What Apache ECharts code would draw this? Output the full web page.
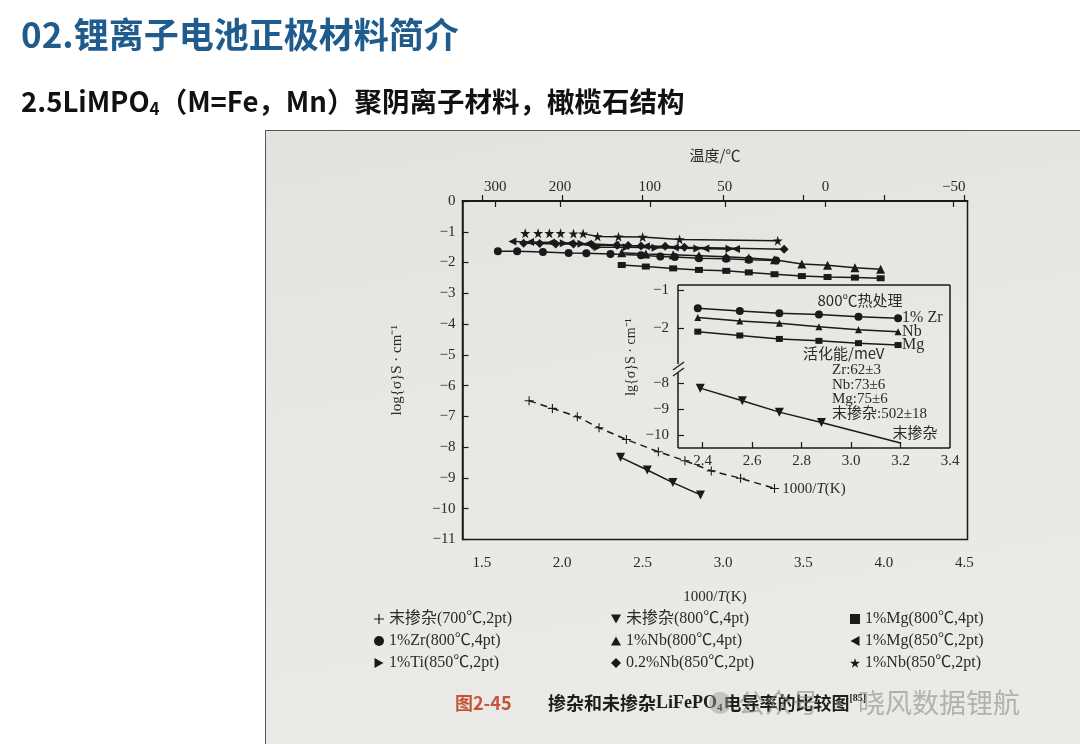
<!DOCTYPE html>
<html><head><meta charset="utf-8">
<script src="https://cdn.jsdelivr.net/npm/echarts@6/dist/echarts.min.js"></script>
<style>
html,body{margin:0;padding:0;background:#fff;}
#photo{position:absolute;left:265px;top:130px;width:815px;height:614px;background:linear-gradient(170deg,#e3e2df 0%,#e9e8e5 45%,#ebeae7 100%);border-left:1.5px solid #555;border-top:1.5px solid #555;box-sizing:border-box;}
#c{position:absolute;left:0;top:0;width:1080px;height:744px;}
</style>
</head><body><div id="photo"></div><div id="c"></div>
<script>
// ---------- data ----------
const xTicks = [1.5, 2.0, 2.5, 3.0, 3.5, 4.0, 4.5];
const tempLabels = [300, 200, 100, 50, 0, -50];
const tempTickPos = [1.583, 1.986, 2.545, 3.011, 3.637, 4.434];

const legendCol1 = ['末掺杂(700℃,2pt)', '1%Zr(800℃,4pt)', '1%Ti(850℃,2pt)'];
const legendCol2 = ['未掺杂(800℃,4pt)', '1%Nb(800℃,4pt)', '0.2%Nb(850℃,2pt)'];
const legendCol3 = ['1%Mg(800℃,4pt)', '1%Mg(850℃,2pt)', '1%Nb(850℃,2pt)'];

const undoped700X = [1.794, 1.939, 2.094, 2.229, 2.399, 2.598, 2.763, 2.927, 3.109, 3.320];
const undoped700Y = [-6.49, -6.74, -7.01, -7.37, -7.75, -8.15, -8.44, -8.77, -9.01, -9.34];
const undoped800X = [2.363, 2.529, 2.688, 2.860];
const undoped800Y = [-8.33, -8.74, -9.15, -9.55];
const mg800X = [2.37, 2.52, 2.69, 2.85, 3.02, 3.16, 3.32, 3.49, 3.65, 3.82, 3.98];
const mg800Y = [-2.08, -2.13, -2.19, -2.24, -2.27, -2.32, -2.38, -2.44, -2.47, -2.49, -2.51];
const nb800X = [2.37, 2.52, 2.69, 2.85, 3.02, 3.16, 3.32, 3.49, 3.65, 3.82, 3.98];
const nb800Y = [-1.68, -1.72, -1.75, -1.78, -1.81, -1.85, -1.91, -2.05, -2.09, -2.17, -2.22];
const zr800X = [1.60, 1.72, 1.88, 2.04, 2.15, 2.30, 2.49, 2.61, 2.70, 2.85, 3.02, 3.16, 3.33];
const zr800Y = [-1.63, -1.63, -1.66, -1.69, -1.70, -1.72, -1.76, -1.80, -1.82, -1.86, -1.88, -1.91, -1.93];
const mg850X = [1.69, 1.80, 1.93, 2.05, 2.16, 2.33, 2.52, 2.70, 2.89, 3.08];
const mg850Y = [-1.32, -1.33, -1.35, -1.37, -1.39, -1.43, -1.47, -1.51, -1.54, -1.56];
const ti850X = [2.01, 2.12, 2.22, 2.40, 2.58, 2.84, 3.04];
const ti850Y = [-1.37, -1.39, -1.50, -1.50, -1.52, -1.54, -1.55];
const nb02X = [1.76, 1.86, 1.96, 2.07, 2.19, 2.34, 2.41, 2.49, 2.64, 2.76, 3.38];
const nb02Y = [-1.37, -1.38, -1.40, -1.40, -1.44, -1.44, -1.45, -1.46, -1.47, -1.50, -1.57];
const nb850X = [1.77, 1.85, 1.92, 1.99, 2.07, 2.13, 2.22, 2.35, 2.50, 2.73, 3.34];
const nb850Y = [-1.05, -1.05, -1.05, -1.05, -1.06, -1.06, -1.15, -1.16, -1.17, -1.25, -1.29];

// inset
const insetXTicks = [2.4, 2.6, 2.8, 3.0, 3.2, 3.4];
const insetTopTicks = [-1, -2];
const insetBottomTicks = [-8, -9, -10];
const insetX = [2.38, 2.55, 2.71, 2.87, 3.03, 3.19];
const insetZrY = [-1.48, -1.55, -1.61, -1.64, -1.70, -1.74];
const insetNbY = [-1.72, -1.81, -1.87, -1.96, -2.04, -2.09];
const insetMgY = [-2.09, -2.19, -2.28, -2.33, -2.39, -2.44];
const insetUndX = [2.39, 2.56, 2.71, 2.88, 3.20];
const insetUndY = [-8.19, -8.68, -9.12, -9.52, -10.32];
const insetEndNames = ['1% Zr', 'Nb', 'Mg', '末掺杂'];
const activation = ['活化能/meV', 'Zr:62±3', 'Nb:73±6', 'Mg:75±6', '末掺杂:502±18'];

// ---------- render ----------
const INK = '#1a1a1a';
const TXT = '#2a2a2a';
const SERIF = '"Liberation Serif","Noto Sans CJK SC",serif';
const CJK = '"Noto Sans CJK SC","Noto Sans",sans-serif';
const SYM = {
  plus: 'path://M4.4,0H5.6V4.4H10V5.6H5.6V10H4.4V5.6H0V4.4H4.4Z',
  down: 'path://M0,0H10L5,9Z',
  up: 'path://M5,0L10,9H0Z',
  left: 'path://M0,5L9,0V10Z',
  right: 'path://M9,5L0,0V10Z',
  star: 'path://M50,0L61.8,36.2H100L69.1,58.8L80.9,95.1L50,72.7L19.1,95.1L30.9,58.8L0,36.2H38.2Z'
};
const zip = (xs, ys) => xs.map((x, i) => [x, ys[i]]);
const minus = v => String(v).replace('-', '−');

function line(name, xs, ys, symbol, size, opts) {
  return Object.assign({
    name, type: 'line', xAxisIndex: 0, yAxisIndex: 0,
    data: zip(xs, ys), symbol, symbolSize: size, showSymbol: true,
    itemStyle: { color: INK }, lineStyle: { color: INK, width: 1.5 },
    animation: false, z: 3
  }, opts || {});
}

const G = { l: 462.5, t: 201, w: 505, h: 338.5 };
const IN = { l: 678, t: 285, w: 272, h1: 83, h2: 80 };

const series = [
  line(legendCol1[0], undoped700X, undoped700Y, SYM.plus, 9, { lineStyle: { color: INK, width: 1.5, type: [7, 5] } }),
  line(legendCol2[0], undoped800X, undoped800Y, SYM.down, 9),
  line(legendCol3[0], mg800X, mg800Y, 'rect', [8, 6]),
  line(legendCol1[1], zr800X, zr800Y, 'circle', 8),
  line(legendCol2[1], nb800X, nb800Y, SYM.up, 9),
  line(legendCol3[1], mg850X, mg850Y, SYM.left, 8),
  line(legendCol1[2], ti850X, ti850Y, SYM.right, 8),
  line(legendCol2[2], nb02X, nb02Y, 'diamond', 9),
  line(legendCol3[2], nb850X, nb850Y, SYM.star, 10, { lineStyle: { opacity: 0 } }),
  line('_nb850line', nb850X.slice(5), nb850Y.slice(5), 'none', 0, { showSymbol: false }),
  // inset
  line('inZr', insetX, insetZrY, 'circle', 8, { xAxisIndex: 2, yAxisIndex: 1,
    endLabel: { show: true, formatter: insetEndNames[0], distance: 4, fontFamily: SERIF, fontSize: 16, color: TXT } }),
  line('inNb', insetX, insetNbY, SYM.up, 7, { xAxisIndex: 2, yAxisIndex: 1,
    endLabel: { show: true, formatter: insetEndNames[1], distance: 4, fontFamily: SERIF, fontSize: 16, color: TXT } }),
  line('inMg', insetX, insetMgY, 'rect', [7, 6], { xAxisIndex: 2, yAxisIndex: 1,
    endLabel: { show: true, formatter: insetEndNames[2], distance: 4, fontFamily: SERIF, fontSize: 16, color: TXT } }),
  line('inUnd', insetUndX, insetUndY, SYM.down, 9, { xAxisIndex: 3, yAxisIndex: 2,
    data: zip(insetUndX, insetUndY).map((p, i) => i === insetUndX.length - 1 ? { value: p, symbol: 'none' } : p),
    endLabel: { show: true, formatter: insetEndNames[3], distance: 4, offset: [-12, -11], fontFamily: CJK, fontSize: 15, color: TXT } })
];

const tickLabel = { fontFamily: SERIF, fontSize: 15, color: TXT };
const axisLine = { show: true, lineStyle: { color: INK, width: 1.5 } };

const legendBase = (left, data, icons) => ({
  orient: 'vertical', left, top: 606, itemWidth: 10, itemHeight: 10, itemGap: 6,
  selectedMode: false,
  textStyle: { fontFamily: SERIF, fontSize: 16, color: TXT },
  data: data.map((n, i) => ({ name: n, icon: icons[i] }))
});

const option = {
  backgroundColor: 'transparent',
  animation: false,
  grid: [
    { left: G.l, top: G.t, width: G.w, height: G.h, show: true, borderColor: INK, borderWidth: 1.5, backgroundColor: 'transparent' },
    { left: IN.l, top: IN.t, width: IN.w, height: IN.h1 },
    { left: IN.l, top: IN.t + IN.h1, width: IN.w, height: IN.h2 }
  ],
  xAxis: [
    { gridIndex: 0, type: 'value', min: 1.38, max: 4.52, position: 'bottom',
      axisLine, splitLine: { show: false },
      axisTick: { inside: true, length: 6, customValues: xTicks, lineStyle: { color: INK, width: 1.2 } },
      axisLabel: Object.assign({ customValues: xTicks, formatter: v => v.toFixed(1), margin: 16 }, tickLabel),
      name: '1000/{i|T}(K)', nameLocation: 'middle', nameGap: 50,
      nameTextStyle: { fontFamily: SERIF, fontSize: 15, color: TXT, rich: { i: { fontFamily: SERIF, fontSize: 15, fontStyle: 'italic', color: TXT } } } },
    { gridIndex: 0, type: 'value', min: 1.38, max: 4.52, position: 'top',
      axisLine, splitLine: { show: false },
      axisTick: { inside: true, length: 6, customValues: tempTickPos, lineStyle: { color: INK, width: 1.2 } },
      axisLabel: Object.assign({ customValues: tempTickPos, margin: 6,
        formatter: v => { const i = tempTickPos.findIndex(p => Math.abs(p - v) < 1e-6); return i < 0 ? '' : minus(tempLabels[i]); } }, tickLabel),
      name: '温度/℃', nameLocation: 'middle', nameGap: 38,
      nameTextStyle: { fontFamily: CJK, fontSize: 15, color: TXT } },
    { gridIndex: 1, type: 'value', min: 2.3, max: 3.4, show: false },
    { gridIndex: 2, type: 'value', min: 2.3, max: 3.4, position: 'bottom',
      axisLine: { show: false }, splitLine: { show: false },
      axisTick: { inside: true, length: 6, customValues: insetXTicks.slice(0, 5), lineStyle: { color: INK, width: 1.2 } },
      axisLabel: Object.assign({ customValues: insetXTicks, formatter: v => v.toFixed(1), margin: 6 }, tickLabel),
      name: '1000/{i|T}(K)', nameLocation: 'middle', nameGap: 34,
      nameTextStyle: { fontFamily: SERIF, fontSize: 15, color: TXT, rich: { i: { fontFamily: SERIF, fontSize: 15, fontStyle: 'italic', color: TXT } } } }
  ],
  yAxis: [
    { gridIndex: 0, type: 'value', min: -11, max: 0, interval: 1,
      axisLine, splitLine: { show: false },
      axisTick: { inside: true, length: 6, lineStyle: { color: INK, width: 1.2 } },
      axisLabel: Object.assign({ formatter: minus, margin: 7 }, tickLabel),
      name: 'log{σ}S · cm⁻¹', nameLocation: 'middle', nameGap: 58,
      nameTextStyle: { fontFamily: SERIF, fontSize: 15, color: TXT } },
    { gridIndex: 1, type: 'value', min: -3.04, max: -0.87,
      axisLine: { show: false }, splitLine: { show: false },
      axisTick: { inside: true, length: 6, customValues: insetTopTicks, lineStyle: { color: INK, width: 1.2 } },
      axisLabel: Object.assign({ customValues: insetTopTicks, formatter: minus, margin: 9 }, tickLabel) },
    { gridIndex: 2, type: 'value', min: -10.51, max: -7.41,
      axisLine: { show: false }, splitLine: { show: false },
      axisTick: { inside: true, length: 6, customValues: insetBottomTicks, lineStyle: { color: INK, width: 1.2 } },
      axisLabel: Object.assign({ customValues: insetBottomTicks, formatter: minus, margin: 9 }, tickLabel) }
  ],
  legend: [
    legendBase(369, legendCol1, [SYM.plus, 'circle', SYM.right]),
    legendBase(606, legendCol2, [SYM.down, SYM.up, 'diamond']),
    legendBase(845, legendCol3, ['rect', SYM.left, SYM.star])
  ],
  series,
  graphic: (() => {
    const L = IN.l, T = IN.t, R = IN.l + IN.w, B = IN.t + IN.h1 + IN.h2, BR = IN.t + IN.h1;
    const seg = (x1, y1, x2, y2, w) => ({ type: 'line', z: 100, shape: { x1, y1, x2, y2 }, style: { stroke: INK, lineWidth: w || 1.5 } });
    const txt = (text, x, y, size, font, align, extra) => Object.assign({ type: 'text', z: 100, x, y,
      style: { text, fontSize: size, fontFamily: font, fill: TXT, textAlign: align || 'left', textVerticalAlign: 'middle' } }, extra || {});
    return [
      { type: 'text', z: 100, x: 21, y: 35, style: { text: '02.锂离子电池正极材料简介', fontSize: 35, fontWeight: 'bold', fontFamily: CJK, fill: '#1f5b8c', textVerticalAlign: 'middle' } },
      { type: 'text', z: 100, x: 21, y: 102, style: { text: '{t|2.5LiMPO}{s|4}{t|（M=Fe，Mn）聚阴离子材料，橄榄石结构}', textVerticalAlign: 'middle',
        rich: { t: { fontSize: 27.5, fontWeight: 'bold', fontFamily: CJK, fill: '#111', lineHeight: 34 },
                s: { fontSize: 17, fontWeight: 'bold', fontFamily: CJK, fill: '#111', lineHeight: 34, padding: [14, 0, 0, 0] } } } },
      // inset frame with axis break
      seg(L, T, R, T), seg(R, T, R, B), seg(L, B, R, B), seg(L, T, L, BR - 4), seg(L, BR + 5, L, B),
      seg(673, BR + 2, 684, BR - 6, 1.3), seg(673, BR + 8, 684, BR, 1.3),
      txt('800℃热处理', 860, 300, 15, CJK, 'center'),
      txt(activation[0], 803, 353, 15, CJK),
      txt(activation[1], 832, 370, 15, SERIF),
      txt(activation[2], 832, 385, 15, SERIF),
      txt(activation[3], 832, 399, 15, SERIF),
      txt(activation[4], 832, 414, 15, SERIF),
      txt('lg{σ}S · cm⁻¹', 631, 357, 14, SERIF, 'center', { rotation: Math.PI / 2 }),
      // caption
      { type: 'text', z: 100, x: 455, y: 703, style: { text: '图2-45', fontSize: 18, fontWeight: 'bold', fontFamily: CJK, fill: '#c4553a', textVerticalAlign: 'middle' } },
      { type: 'text', z: 100, x: 548, y: 703, style: { text: '{t|掺杂和未掺杂}{l|LiFePO}{s|4}{t|电导率的比较图}{p|[85]}', textVerticalAlign: 'middle',
        rich: { t: { fontSize: 18, fontWeight: 'bold', fontFamily: CJK, fill: '#1e1e1e', lineHeight: 26 },
                l: { fontSize: 18, fontWeight: 'bold', fontFamily: SERIF, fill: '#1e1e1e', lineHeight: 26 },
                s: { fontSize: 11, fontWeight: 'bold', fontFamily: SERIF, fill: '#1e1e1e', lineHeight: 26, padding: [10, 1, 0, 0] },
                p: { fontSize: 10, fontWeight: 'bold', fontFamily: SERIF, fill: '#1e1e1e', lineHeight: 26, padding: [0, 0, 10, 0] } } } },
      // watermark
      { type: 'circle', z: 101, shape: { cx: 720, cy: 703, r: 11 }, style: { fill: 'rgba(150,150,150,0.45)' } },
      { type: 'text', z: 101, x: 738, y: 703, style: { text: '公众号 · 晓风数据锂航', fontSize: 27, fontFamily: CJK, fill: 'rgba(130,130,130,0.55)', textVerticalAlign: 'middle' } }
    ];
  })()
};

const chart = echarts.init(document.getElementById('c'), null, { renderer: 'canvas', width: 1080, height: 744 });
chart.setOption(option);
</script>
</body></html>
